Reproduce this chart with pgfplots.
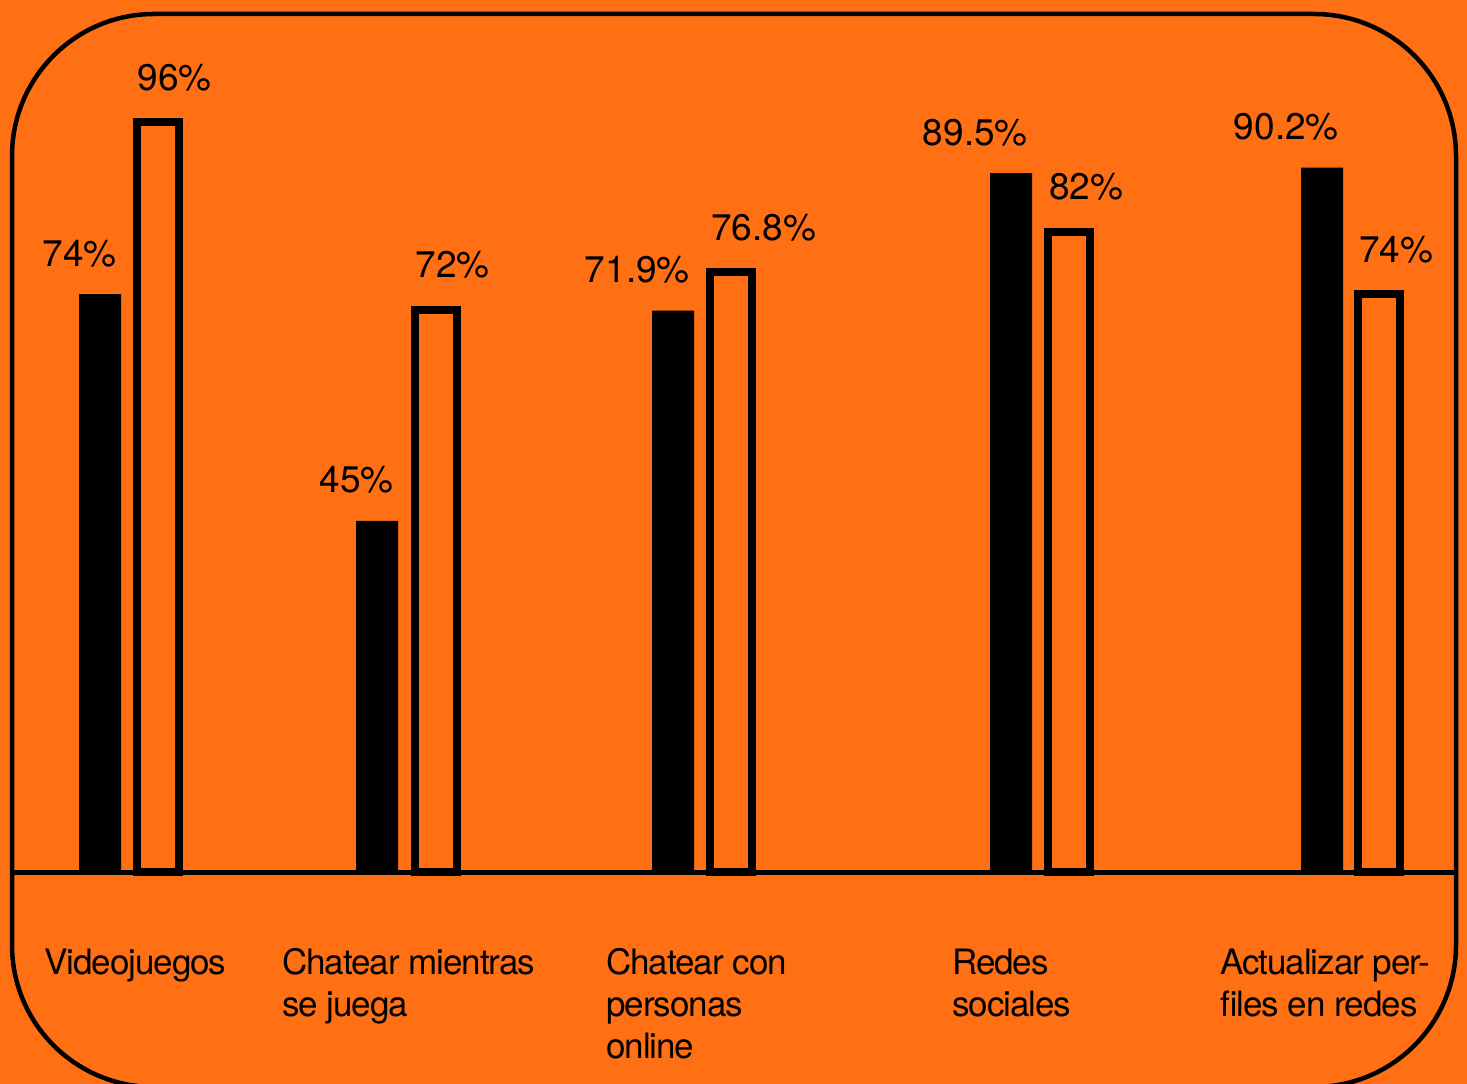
\documentclass[border=0pt]{standalone}
\usepackage{fontspec}
\setmainfont{TeX Gyre Heros}
\newfontfamily\catfont[LetterSpace=-3]{TeX Gyre Heros}
\usepackage{pgfplots}
\usepackage{pgfplotstable}
\pgfplotsset{compat=1.18}
\definecolor{bgorange}{RGB}{255,111,20}

% x: bar centre (pt), y: share in percent
\pgfplotstableread{
x y
100 74
377 45
673 71.9
1011 89.5
1322 90.2
}\tablefirst
\pgfplotstableread{
x y
157.5 96
435.5 72
731 76.8
1069 82
1379 74
}\tablesecond

\begin{document}
\begin{tikzpicture}[x=1pt,y=1pt]
\clip (0,0) rectangle (1467,1084);
\fill[bgorange] (0,0) rectangle (1467,1084);
\begin{axis}[
  at={(0,0)}, anchor=south west,
  scale only axis,
  width=1467pt, height=1084pt,
  xmin=0, xmax=1467,
  ymin=-27.063, ymax=111.644,
  hide axis,
  clip=false,
  ybar, bar shift=0pt,
  point meta=y,
  nodes near coords={\pgfmathprintnumber{\pgfplotspointmeta}\%},
  /pgf/number format/assume math mode=true,
  /pgf/number format/.cd, fixed, precision=1, /pgfplots/.cd,
]
\addplot[fill=black, draw=none, bar width=42pt,
  every node near coord/.append style={font=\fontsize{37}{44}\selectfont, text=black,
    inner sep=0pt, anchor=base east, xshift=17pt, yshift=28pt}]
  table[x=x, y=y] {\tablefirst};
\addplot[fill=bgorange, draw=black, line width=8pt, bar width=42pt,
  every node near coord/.append style={font=\fontsize{37}{44}\selectfont, text=black,
    inner sep=0pt, anchor=base west, xshift=-24pt, yshift=32pt}]
  table[x=x, y=y] {\tablesecond};
\end{axis}
% baseline of the bars
\draw[line width=5pt] (12,211.5) -- (1456,211.5);
% rounded frame, open below
\draw[line width=4.5pt, rounded corners=142pt] (12,-3) rectangle (1456,1070);
% category names
\begin{scope}[every node/.style={anchor=base west, inner sep=0pt,
    font=\catfont\fontsize{35}{42}\selectfont}]
\node at (44,109) {Videojuegos};
\node at (282,109) {Chatear mientras};
\node at (282,67) {se juega};
\node at (606,109) {Chatear con};
\node at (606,67) {personas};
\node at (606,25) {online};
\node at (952,109) {Redes};
\node at (952,67) {sociales};
\node at (1220,109) {Actualizar per-};
\node at (1220,67) {files en redes};
\end{scope}
\end{tikzpicture}
\end{document}
